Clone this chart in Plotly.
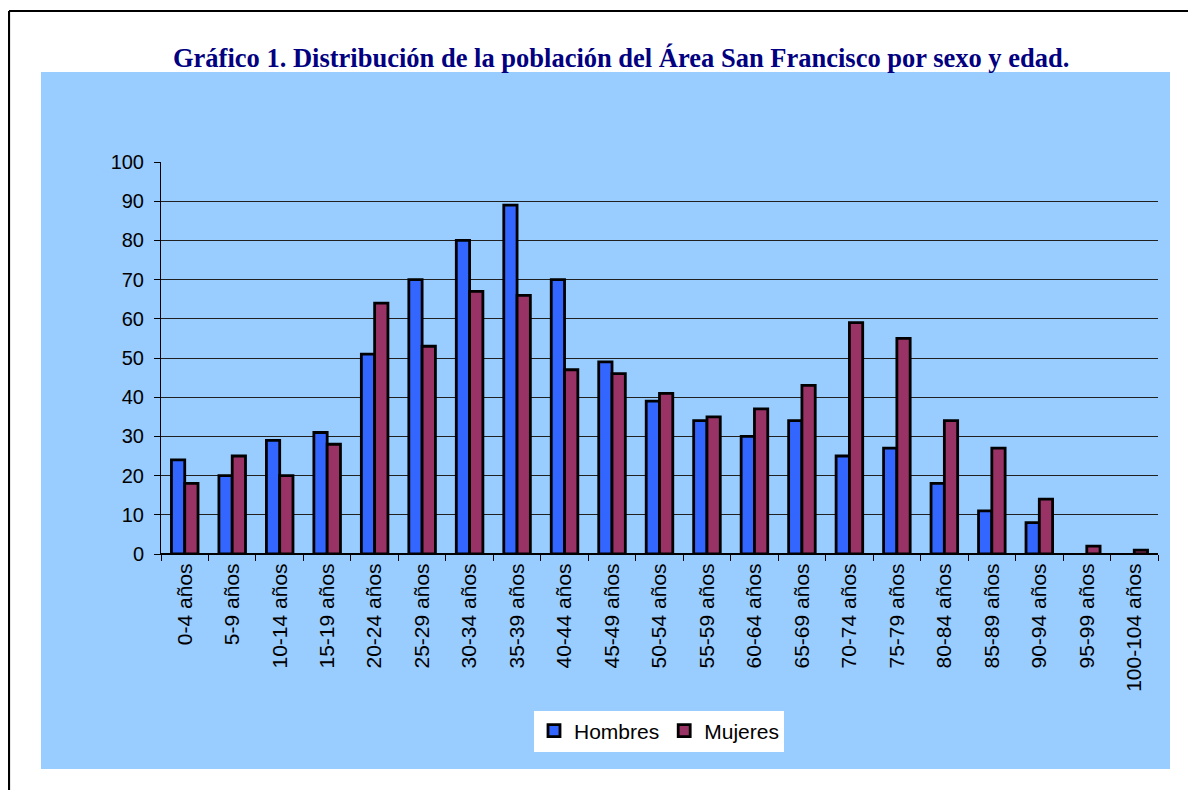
import plotly.graph_objects as go

categories = ["0-4 años", "5-9 años", "10-14 años", "15-19 años", "20-24 años",
              "25-29 años", "30-34 años", "35-39 años", "40-44 años", "45-49 años",
              "50-54 años", "55-59 años", "60-64 años", "65-69 años", "70-74 años",
              "75-79 años", "80-84 años", "85-89 años", "90-94 años", "95-99 años",
              "100-104 años"]
hombres = [24, 20, 29, 31, 51, 70, 80, 89, 70, 49, 39, 34, 30, 34, 25, 27, 18, 11, 8, 0, 0]
mujeres = [18, 25, 20, 28, 64, 53, 67, 66, 47, 46, 41, 35, 37, 43, 59, 55, 34, 27, 14, 2, 1]
y_ticks = [0, 10, 20, 30, 40, 50, 60, 70, 80, 90, 100]
title_text = "Gráfico 1. Distribución de la población del Área San Francisco por sexo y edad."

OFF = 8  # page body margin
W, H = 1196, 790
# target screen positions of the plot area
SX0, SX1, SY0, SY1 = 161, 1158, 162, 554
L = SX0 - OFF
T = SY0 - OFF
R = W - (SX1 - OFF)
B = H - (SY1 - OFF)
pw, ph = SX1 - SX0, SY1 - SY0

def px(x):
    return (x - SX0) / pw

def py(y):
    return (SY1 - y) / ph

def outline(values, w=2.8):
    return [0 if v == 0 else w for v in values]

fig = go.Figure()
fig.add_trace(go.Bar(x=categories, y=hombres, name="Hombres",
                     marker=dict(color="#3366FF",
                                 line=dict(color="black", width=outline(hombres)))))
fig.add_trace(go.Bar(x=categories, y=mujeres, name="Mujeres",
                     marker=dict(color="#993366",
                                 line=dict(color="black", width=outline(mujeres)))))

fig.update_layout(
    width=W, height=H,
    margin=dict(l=L, r=R, t=T, b=B, autoexpand=False),
    paper_bgcolor="white",
    plot_bgcolor="#C0C0C0",
    barmode="group",
    bargap=0.44,
    bargroupgap=0,
    font=dict(family="Arial, Liberation Sans, sans-serif", size=21, color="black"),
    showlegend=True,
    legend=dict(orientation="h", x=px(659), xanchor="center", y=py(731), yanchor="middle",
                bgcolor="white", font=dict(size=21), itemwidth=30,
                tracegroupgap=0, borderwidth=0),
    xaxis=dict(showline=True, linecolor="black", linewidth=1,
               ticks="outside", tickson="boundaries", ticklen=6, tickcolor="black",
               tickangle=-90, showgrid=False, tickfont=dict(size=21)),
    yaxis=dict(range=[0, 100], tickvals=y_ticks, showline=True, linecolor="black",
               linewidth=1, ticks="outside", ticklen=6, tickcolor="black",
               ticklabelstandoff=6,
               showgrid=True, gridcolor="#202020", gridwidth=1,
               zeroline=True, zerolinecolor="black", tickfont=dict(size=20)),
    shapes=[
        dict(type="rect", xref="paper", yref="paper", layer="below",
             x0=px(41), x1=px(1170), y0=py(769), y1=py(72),
             fillcolor="#99CCFF", line=dict(width=0)),
        dict(type="line", xref="paper", yref="paper",
             x0=px(9), x1=px(1210), y0=py(11), y1=py(11),
             line=dict(color="black", width=2.2)),
        dict(type="line", xref="paper", yref="paper",
             x0=px(9), x1=px(9), y0=py(11), y1=py(805),
             line=dict(color="black", width=2.2)),
    ],
    annotations=[
        dict(text="<b>" + title_text + "</b>", xref="paper", yref="paper",
             x=px(620.5), y=py(58), xanchor="center", yanchor="middle",
             showarrow=False,
             font=dict(family="Times New Roman, Liberation Serif, serif", size=26.5,
                       color="#000080")),
    ],
)

fig.write_html("out.html")
